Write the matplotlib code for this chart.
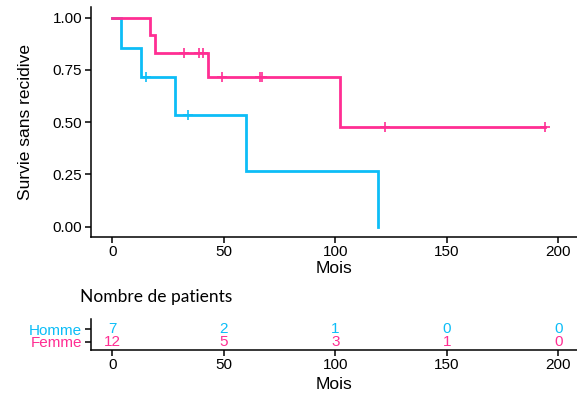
# ============================================================
# Kaplan-Meier : survie sans recidive par sexe
# ============================================================

import numpy as np
import matplotlib.pyplot as plt

# ============================================================
# 1. Donnees (mois de suivi, 1 = recidive, 0 = censure)
# ============================================================

homme_temps = [4, 13, 15, 28, 34, 60, 119]
homme_event = [1, 1, 0, 1, 0, 1, 1]

femme_temps = [17, 19, 32, 39, 40.5, 43, 49, 66, 67, 102, 122, 194]
femme_event = [1, 1, 0, 0, 0, 1, 0, 0, 0, 1, 0, 0]

groupes = ["Homme", "Femme"]

temps_table = [0, 50, 100, 150, 200]

couleurs = {
"Homme":"#0DBDF7",
"Femme":"#FF2E93"
}

police = ["Liberation Sans", "DejaVu Sans"]

# ============================================================
# 2. Fonctions
# ============================================================

def km(temps, event):

    t = np.asarray(temps, dtype=float)
    e = np.asarray(event)

    xs = [0.0]
    ys = [1.0]
    s = 1.0

    for u in np.unique(t[e == 1]):

        n = np.sum(t >= u)
        d = np.sum((t == u) & (e == 1))
        s *= 1 - d / n

        xs.append(u)
        ys.append(s)

    if t.max() > xs[-1]:
        xs.append(t.max())
        ys.append(ys[-1])

    return np.array(xs), np.array(ys)

def surv_at(xs, ys, t):

    idx = np.searchsorted(xs, t, side="right") - 1
    return ys[idx]

def at_risk(temps, t):

    return int(np.sum(np.asarray(temps) >= t))

donnees = {
"Homme":(homme_temps, homme_event),
"Femme":(femme_temps, femme_event)
}

# ============================================================
# 3. Figure
# ============================================================

fig = plt.figure(figsize=(5.77, 3.96), dpi=100)

ax = fig.add_axes([0.157, 0.4015, 0.843, 0.580])
axr = fig.add_axes([0.157, 0.116, 0.843, 0.078])

xlim = (-9.78, 208.3)

# Courbes
for g in groupes:

    temps, event = donnees[g]
    xs, ys = km(temps, event)

    ax.step(xs, ys, where="post", color=couleurs[g], linewidth=2.0,
            zorder=3 if g == "Femme" else 2, solid_joinstyle="miter")

    cens = [t for t, e in zip(temps, event) if e == 0]
    ax.plot(cens, [surv_at(xs, ys, t) for t in cens], linestyle="None",
            marker="+", markersize=7, markeredgewidth=1.2,
            color=couleurs[g], zorder=4)

ax.set_xlim(*xlim)
ax.set_ylim(-0.05, 1.05)
ax.set_xticks([0, 50, 100, 150, 200])
ax.set_yticks([0, 0.25, 0.5, 0.75, 1.0])
ax.set_yticklabels(["0.00", "0.25", "0.50", "0.75", "1.00"])
ax.set_xlabel("Mois", fontsize=12.5, family=police, labelpad=1)
ax.set_ylabel("Survie sans recidive", fontsize=12.5, family=police, labelpad=14)

# ============================================================
# 4. Tableau des patients a risque
# ============================================================

lignes = {"Homme":2, "Femme":1}

for g in groupes:

    temps, _ = donnees[g]

    for t in temps_table:

        axr.text(t, lignes[g], str(at_risk(temps, t)), ha="center", va="center",
                 fontsize=11, color=couleurs[g], family=police)

axr.set_xlim(*xlim)
axr.set_ylim(0.33, 2.8)
axr.set_xticks([0, 50, 100, 150, 200])
axr.set_yticks([lignes[g] for g in groupes])
axr.set_yticklabels(groupes)

axr.set_xlabel("Mois", fontsize=12.5, family=police, labelpad=3)

fig.text(0.139, 0.25, "Nombre de patients", fontsize=12.5, family=["Lato", "DejaVu Sans"],
         ha="left", va="center", color="black")

# Style commun
for a in [ax, axr]:

    for s in ["top", "right"]:
        a.spines[s].set_visible(False)

    a.spines["left"].set_linewidth(1.1)
    a.spines["bottom"].set_linewidth(1.1)

    a.tick_params(length=4, width=1.1, labelsize=11, pad=2)

    for lab in a.get_xticklabels() + a.get_yticklabels():
        lab.set_family(police)

for lab, g in zip(axr.get_yticklabels(), groupes):
    lab.set_color(couleurs[g])

fig.savefig("out.png", dpi=100)
